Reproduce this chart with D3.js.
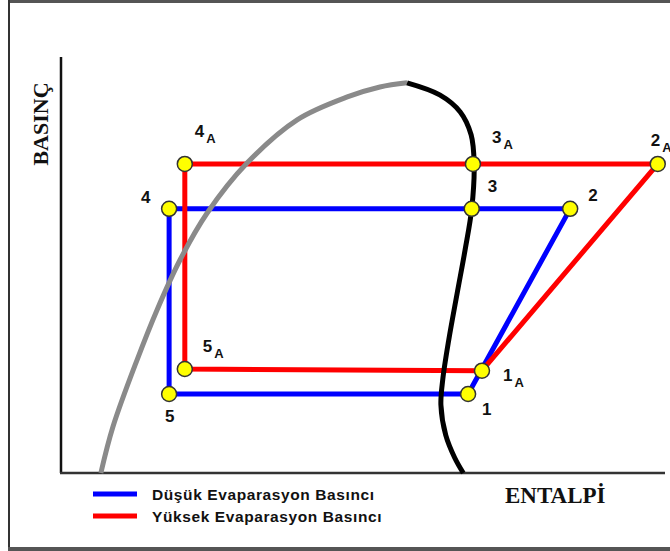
<!DOCTYPE html>
<html>
<head>
<meta charset="utf-8">
<script src="https://cdn.jsdelivr.net/npm/d3@7"></script>
<style>
  body { margin: 0; background: #fff; }
  svg { display: block; }
</style>
</head>
<body>
<div id="chart"></div>
<script>
// cycle state points (enthalpy, pressure in relative units 0-100)
const lowNames = ["1", "2", "3", "4", "5"];
const lowH = [67.4, 84.3, 68.0, 17.9, 17.9];
const lowP = [19.0, 63.5, 63.5, 63.5, 19.0];

const highNames = ["1A", "2A", "3A", "4A", "5A"];
const highH = [69.7, 98.8, 68.2, 20.5, 20.5];
const highP = [24.6, 74.3, 74.3, 74.3, 25.0];

// saturated liquid line (gray)
const liquidH = [6.6, 8.6, 12.6, 15.9, 19.7, 24.2, 30.8, 39.1, 47.4, 52.8, 57.3];
const liquidP = [0, 11.1, 27.2, 39.2, 51.2, 62.5, 74.5, 84.9, 90.4, 92.8, 93.8];

// saturated vapour line (black)
const vaporH = [57.3, 62.7, 66.1, 67.9, 68.4, 68.0, 66.9, 65.6, 64.2, 63.2, 62.9, 63.7, 65.2, 66.6];
const vaporP = [93.8, 90.9, 86.8, 81.3, 74.5, 63.5, 53.6, 43.3, 32.0, 22.4, 16.3, 9.1, 3.6, 0];

const legendLabels = ["Düşük Evaparasyon Basıncı", "Yüksek Evaparasyon Basıncı"];
const yTitle = "BASINÇ";
const xTitle = "ENTALPİ";

const width = 670;
const height = 551;

const svg = d3
  .select("#chart")
  .append("svg")
  .attr("width", width)
  .attr("height", height);

// outer frame
svg.append("rect").attr("x", 8).attr("y", 0).attr("width", width - 8).attr("height", 3).attr("fill", "#555");
svg.append("rect").attr("x", 8).attr("y", 0).attr("width", 2).attr("height", height).attr("fill", "#333");
svg.append("rect").attr("x", 8).attr("y", 547).attr("width", width - 8).attr("height", 4).attr("fill", "#555");

const x = d3.scaleLinear().domain([0, 100]).range([61, 665]);
const y = d3.scaleLinear().domain([0, 100]).range([473, 57]);

// axes (plain lines, no ticks)
svg
  .append("line")
  .attr("x1", x(0))
  .attr("x2", x(0))
  .attr("y1", y(100))
  .attr("y2", y(0))
  .attr("stroke", "#111")
  .attr("stroke-width", 2.5);
svg
  .append("line")
  .attr("x1", x(0) - 1)
  .attr("x2", x(100))
  .attr("y1", y(0))
  .attr("y2", y(0))
  .attr("stroke", "#333")
  .attr("stroke-width", 2.5);

const zip = (hs, ps, names) => hs.map((h, i) => ({ h: h, p: ps[i], name: names ? names[i] : null }));

const lowData = zip(lowH, lowP, lowNames);
const highData = zip(highH, highP, highNames);

const cycleLine = d3
  .line()
  .x((d) => x(d.h))
  .y((d) => y(d.p))
  .curve(d3.curveLinearClosed);

svg
  .append("path")
  .attr("d", cycleLine(lowData))
  .attr("fill", "none")
  .attr("stroke", "#0000ff")
  .attr("stroke-width", 5);

svg
  .append("path")
  .attr("d", cycleLine(highData))
  .attr("fill", "none")
  .attr("stroke", "#ff0000")
  .attr("stroke-width", 5);

// saturation dome
const domeLine = d3
  .line()
  .x((d) => x(d.h))
  .y((d) => y(d.p))
  .curve(d3.curveCatmullRom);

svg
  .append("path")
  .attr("d", domeLine(zip(liquidH, liquidP)))
  .attr("fill", "none")
  .attr("stroke", "#8a8a8a")
  .attr("stroke-width", 5);

svg
  .append("path")
  .attr("d", domeLine(zip(vaporH, vaporP)))
  .attr("fill", "none")
  .attr("stroke", "#000")
  .attr("stroke-width", 5);

// state points
svg
  .selectAll("circle.pt")
  .data(lowData.concat(highData))
  .enter()
  .append("circle")
  .attr("class", "pt")
  .attr("cx", (d) => x(d.h))
  .attr("cy", (d) => y(d.p))
  .attr("r", 7.5)
  .attr("fill", "#ffff00")
  .attr("stroke", "#333")
  .attr("stroke-width", 1.5);

// label offsets from each point
const labelOffset = {
  "1": [14, 21],
  "2": [18, -8],
  "3": [16, -17],
  "4": [-28, -6],
  "5": [-4, 28],
  "1A": [21, 10],
  "2A": [-7, -18],
  "3A": [19, -21],
  "4A": [10, -27],
  "5A": [18, -17],
};

const labels = svg
  .selectAll("text.pt")
  .data(lowData.concat(highData))
  .enter()
  .append("text")
  .attr("class", "pt")
  .attr("x", (d) => x(d.h) + labelOffset[d.name][0])
  .attr("y", (d) => y(d.p) + labelOffset[d.name][1])
  .style("font-family", "'Liberation Sans', Arial, sans-serif")
  .style("font-weight", "bold")
  .style("font-size", "17px")
  .attr("fill", "#111");

labels.append("tspan").text((d) => d.name[0]);
labels
  .filter((d) => d.name.length > 1)
  .append("tspan")
  .attr("dx", 2)
  .attr("dy", 6)
  .style("font-size", "13px")
  .text((d) => d.name.slice(1));

// axis titles
svg
  .append("text")
  .attr("transform", "translate(48,124) rotate(-90)")
  .style("text-anchor", "middle")
  .style("font-family", "'Liberation Serif', 'Times New Roman', serif")
  .style("font-weight", "bold")
  .style("font-size", "22px")
  .attr("fill", "#111")
  .text(yTitle);

svg
  .append("text")
  .attr("x", 505)
  .attr("y", 503)
  .style("font-family", "'Liberation Serif', 'Times New Roman', serif")
  .style("font-weight", "bold")
  .style("font-size", "23px")
  .attr("fill", "#111")
  .text(xTitle);

// legend
const legendColors = ["#0000ff", "#ff0000"];
const legend = svg
  .selectAll("g.legend")
  .data(legendLabels)
  .enter()
  .append("g")
  .attr("class", "legend")
  .attr("transform", (d, i) => `translate(93,${494 + i * 22})`);

legend
  .append("rect")
  .attr("x", 0)
  .attr("y", -2.5)
  .attr("width", 44)
  .attr("height", 5)
  .attr("fill", (d, i) => legendColors[i]);

legend
  .append("text")
  .attr("x", 59)
  .attr("y", 6)
  .style("font-family", "'Liberation Sans', Arial, sans-serif")
  .style("font-weight", "bold")
  .style("font-size", "15.5px")
  .style("letter-spacing", "0.6px")
  .attr("fill", "#111")
  .text((d) => d);
</script>
</body>
</html>
